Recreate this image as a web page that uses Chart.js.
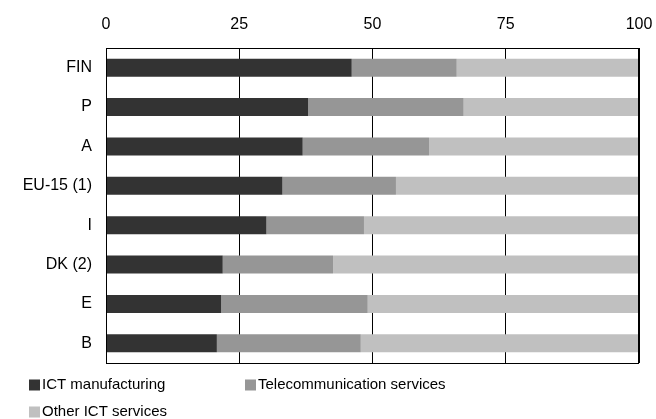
<!DOCTYPE html>
<html>
<head>
<meta charset="utf-8">
<script src="https://cdn.jsdelivr.net/npm/chart.js@4/dist/chart.umd.min.js"></script>
<style>
  html, body { margin: 0; padding: 0; background: #fff; }
  #wrap { width: 656px; height: 419px; position: relative; }
</style>
</head>
<body>
<div id="wrap"><canvas id="chart"></canvas></div>
<script>
const countries = ["FIN", "P", "A", "EU-15 (1)", "I", "DK (2)", "E", "B"];
const ictManufacturing = [46.1, 37.9, 36.9, 33.1, 30.1, 21.9, 21.6, 20.8];
const telecomServices = [19.7, 29.2, 23.7, 21.3, 18.3, 20.7, 27.5, 27.0];
const otherIctServices = [34.2, 32.9, 39.4, 45.6, 51.6, 57.4, 50.9, 52.2];
const xTicks = [0, 25, 50, 75, 100];

const FONT = "'Liberation Sans', Arial, sans-serif";

// frame round the plot + legend drawn in two columns under it
const framePlugin = {
  id: "frame",
  afterDraw(chart) {
    const { ctx, chartArea: a } = chart;
    ctx.save();
    ctx.strokeStyle = "#000";
    ctx.lineWidth = 1;
    ctx.strokeRect(a.left + 0.5, a.top + 0.5, a.right - a.left - 1, a.bottom - a.top);

    const pos = [[29, 385], [245, 385], [29, 412]];
    ctx.font = "15px " + FONT;
    ctx.textBaseline = "middle";
    chart.data.datasets.forEach((ds, i) => {
      const [x, y] = pos[i];
      ctx.fillStyle = ds.backgroundColor;
      ctx.fillRect(x, y - 5.5, 11, 11);
      ctx.fillStyle = "#000";
      ctx.fillText(ds.label, x + 13, y);
    });
    ctx.restore();
  }
};

new Chart(document.getElementById("chart"), {
  type: "bar",
  data: {
    labels: countries,
    datasets: [
      { label: "ICT manufacturing", data: ictManufacturing, backgroundColor: "#333333" },
      { label: "Telecommunication services", data: telecomServices, backgroundColor: "#969696" },
      { label: "Other ICT services", data: otherIctServices, backgroundColor: "#c0c0c0" }
    ]
  },
  options: {
    indexAxis: "y",
    responsive: true,
    maintainAspectRatio: false,
    animation: false,
    barPercentage: 0.46,
    categoryPercentage: 1,
    layout: { padding: { top: 0, left: 0, right: 17, bottom: 56 } },
    plugins: {
      legend: { display: false },
      tooltip: { enabled: false }
    },
    scales: {
      x: {
        position: "top",
        stacked: true,
        min: 0,
        max: 100,
        afterBuildTicks: s => { s.ticks = xTicks.map(v => ({ value: v })); },
        afterFit: s => { s.height = 48; s.paddingLeft = 0; s.paddingRight = 0; },
        grid: { color: "#000", drawTicks: false, lineWidth: 1 },
        border: { display: false },
        ticks: { color: "#000", font: { family: FONT, size: 16 }, padding: 14, maxRotation: 0 }
      },
      y: {
        stacked: true,
        afterFit: s => { s.width = 106; },
        grid: { display: false, drawTicks: false },
        border: { display: false },
        ticks: { color: "#000", font: { family: FONT, size: 16 }, padding: 14 }
      }
    }
  },
  plugins: [framePlugin]
});
</script>
</body>
</html>
